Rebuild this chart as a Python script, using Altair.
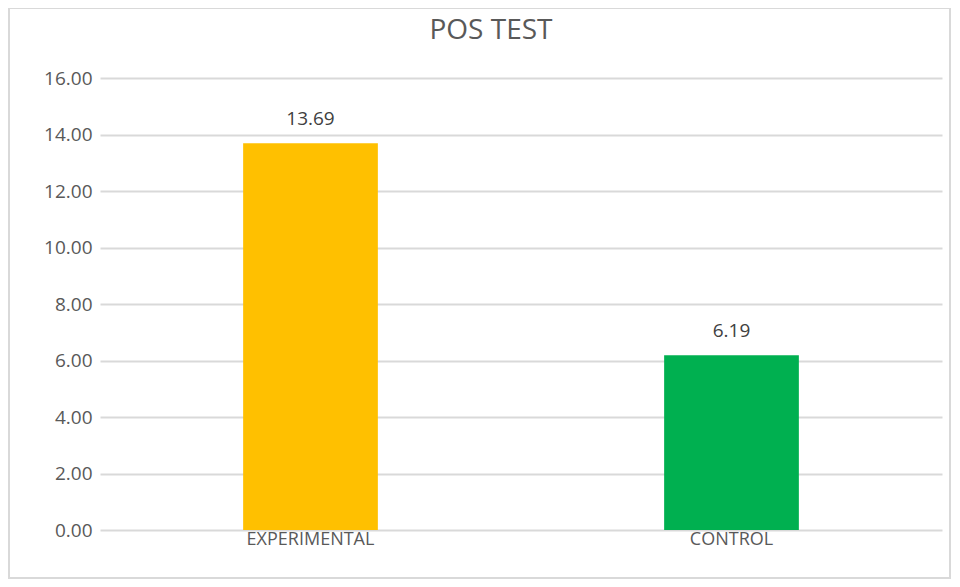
import altair as alt
import pandas as pd

categories = ["EXPERIMENTAL", "CONTROL"]
values = [13.69, 6.19]
colors = ["#FFC000", "#00B050"]
y_ticks = [0, 2, 4, 6, 8, 10, 12, 14, 16]

df = pd.DataFrame({"group": categories, "score": values, "color": colors})

x_enc = alt.X("group:N", sort=categories,
              scale=alt.Scale(paddingInner=0.68, paddingOuter=0.34),
              axis=alt.Axis(title=None, labelAngle=0, ticks=False, domain=False,
                            labelFontSize=18, labelColor="#595959",
                            labelFont="Open Sans", labelPadding=0, grid=False))
y_enc = alt.Y("score:Q", scale=alt.Scale(domain=[0, 16], nice=False),
              axis=alt.Axis(title=None, values=y_ticks, format=".2f", ticks=False,
                            domain=False, labelFontSize=19, labelColor="#595959",
                            labelFont="Open Sans", labelPadding=8,
                            gridColor="#d9d9d9", gridWidth=2))

border = alt.Chart(pd.DataFrame({"a": [0]})).mark_rect(
    fill=None, stroke="#d9d9d9", strokeWidth=2
).encode(x=alt.value(-91), x2=alt.value(850), y=alt.value(-70), y2=alt.value(500))

bars = alt.Chart(df).mark_bar().encode(
    x=x_enc, y=y_enc,
    color=alt.Color("color:N", scale=None, legend=None),
)

labels = alt.Chart(df).mark_text(
    dy=-24, fontSize=19, font="Open Sans", color="#404040"
).encode(x=alt.X("group:N", sort=categories), y="score:Q",
         text=alt.Text("score:Q", format=".2f"))

chart = alt.layer(border, bars, labels).properties(
    width=842, height=452,
    autosize=alt.AutoSizeParams(type="none"),
    padding={"left": 92, "top": 70, "right": 10, "bottom": 49},
    title=alt.TitleParams("POS TEST", fontSize=28, font="Open Sans",
                          fontWeight="normal", color="#595959", offset=0, dx=-30,
                          dy=38, anchor="middle"),
).configure_view(stroke=None)

chart.save("out.html", embed_options={"renderer": "svg", "actions": False})
